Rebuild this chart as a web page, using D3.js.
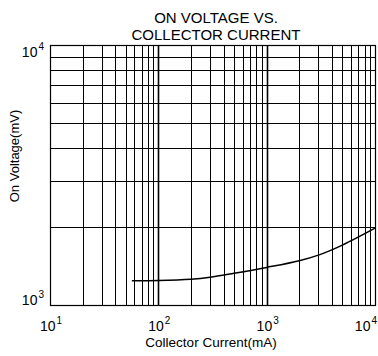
<!DOCTYPE html>
<html>
<head>
<meta charset="utf-8">
<script src="https://cdn.jsdelivr.net/npm/d3@7"></script>
<style>
  body { margin: 0; background: #fff; }
  text { font-family: "Liberation Sans", Arial, sans-serif; fill: #000; }
</style>
</head>
<body>
<div id="chart"></div>
<script>
// curve
var currents = [57, 100, 200, 300, 500, 1000, 2000, 3000, 5000, 10000];   // mA
var voltages = [1240, 1242, 1256, 1278, 1324, 1395, 1480, 1555, 1700, 1975]; // mV

var xTickValues = [10, 100, 1000, 10000];
var xTickExps = ["1", "2", "3", "4"];
var yTickValues = [1000, 10000];
var yTickExps = ["3", "4"];
var titleLines = ["ON VOLTAGE VS.", "COLLECTOR CURRENT"];

function init(){
    var w = 378;
    var h = 356;
    var left = 50, right = 375, top = 45, bottom = 305;

    var svg = d3.select('#chart')
                .append('svg')
                .attr('width', w)
                .attr('height', h);

    var xScale = d3.scaleLog()
                    .domain([10, 10000])
                    .range([left, right]);

    var yScale = d3.scaleLog()
                    .domain([1000, 10000])
                    .range([bottom, top]);

    // grid lines at every 1..9 of each decade
    var xGrid = [];
    for (var d = 10; d < 10000; d *= 10) {
        for (var k = 1; k < 10; k++) xGrid.push(k * d);
    }
    xGrid.push(10000);
    var yGrid = d3.range(1, 11).map(function(k){ return k * 1000; });

    svg.selectAll('line.vg')
        .data(xGrid)
        .enter()
        .append('line')
        .attr('class', 'vg')
        .attr('x1', function(d){ return Math.round(xScale(d)) + 0.5; })
        .attr('x2', function(d){ return Math.round(xScale(d)) + 0.5; })
        .attr('y1', top)
        .attr('y2', bottom)
        .attr('stroke', '#000')
        .attr('stroke-width', function(d){
            return (d === 100 || d === 1000) ? 1.6 : 1;
        });

    svg.selectAll('line.hg')
        .data(yGrid)
        .enter()
        .append('line')
        .attr('class', 'hg')
        .attr('x1', left)
        .attr('x2', right)
        .attr('y1', function(d){ return Math.round(yScale(d)) + 0.5; })
        .attr('y2', function(d){ return Math.round(yScale(d)) + 0.5; })
        .attr('stroke', '#000')
        .attr('stroke-width', 1);

    // frame
    svg.append('rect')
        .attr('x', left + 0.5)
        .attr('y', top + 0.5)
        .attr('width', right - left)
        .attr('height', bottom - top)
        .attr('fill', 'none')
        .attr('stroke', '#000')
        .attr('stroke-width', 1.2);

    // the curve
    var pts = currents.map(function(c, i){ return [c, voltages[i]]; });
    var line = d3.line()
                .x(function(d){ return xScale(d[0]); })
                .y(function(d){ return yScale(d[1]); })
                .curve(d3.curveCatmullRom.alpha(0.5));

    svg.append('path')
        .datum(pts)
        .attr('d', line)
        .attr('fill', 'none')
        .attr('stroke', '#000')
        .attr('stroke-width', 1.5);

    // x tick labels 10^n
    var xl = svg.selectAll('text.xt')
        .data(xTickValues)
        .enter()
        .append('text')
        .attr('class', 'xt')
        .attr('x', function(d, i){
            // last label is kept inside the window
            return i === xTickValues.length - 1 ? 377 : xScale(d) + 1;
        })
        .attr('y', 331)
        .attr('text-anchor', function(d, i){
            return i === xTickValues.length - 1 ? 'end' : 'middle';
        })
        .style('font-size', '14px');
    xl.append('tspan').text('10');
    xl.append('tspan')
        .attr('dy', -7)
        .attr('dx', 1)
        .style('font-size', '10px')
        .text(function(d, i){ return xTickExps[i]; });

    // y tick labels 10^n
    var yl = svg.selectAll('text.yt')
        .data(yTickValues)
        .enter()
        .append('text')
        .attr('class', 'yt')
        .attr('x', 44)
        .attr('y', function(d, i){
            return i === 0 ? yScale(d) : yScale(d) + 12;
        })
        .attr('text-anchor', 'end')
        .style('font-size', '14px');
    yl.append('tspan').text('10');
    yl.append('tspan')
        .attr('dy', -7)
        .attr('dx', 1)
        .style('font-size', '10px')
        .text(function(d, i){ return yTickExps[i]; });

    // title
    svg.selectAll('text.title')
        .data(titleLines)
        .enter()
        .append('text')
        .attr('class', 'title')
        .attr('x', 216)
        .attr('y', function(d, i){ return 23 + i * 16.5; })
        .attr('text-anchor', 'middle')
        .style('font-size', '15px')
        .text(function(d){ return d; });

    // axis titles
    svg.append('text')
        .attr('x', 211)
        .attr('y', 347)
        .attr('text-anchor', 'middle')
        .style('font-size', '13.5px')
        .text('Collector Current(mA)');

    svg.append('text')
        .attr('transform', 'translate(19,156) rotate(-90)')
        .attr('text-anchor', 'middle')
        .style('font-size', '13px')
        .text('On Voltage(mV)');
}

window.onload = init;
</script>
</body>
</html>
